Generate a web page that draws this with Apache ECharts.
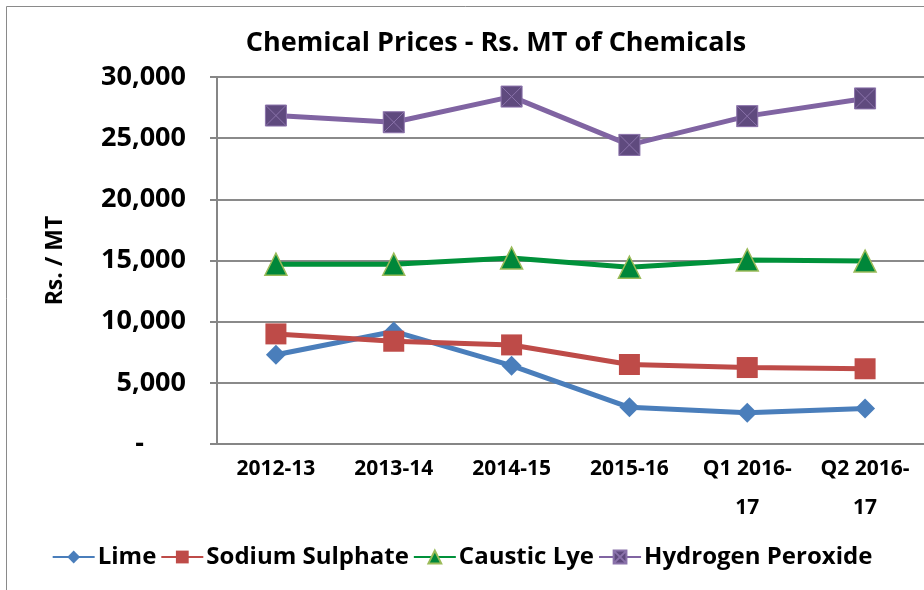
<!DOCTYPE html>
<html>
<head>
<meta charset="utf-8">
<script src="https://cdn.jsdelivr.net/npm/echarts@6/dist/echarts.min.js"></script>
<style>
  html, body { margin: 0; padding: 0; background: #fff; }
  #chart { width: 924px; height: 590px; }
</style>
</head>
<body>
<div id="chart"></div>
<script>
const categories = ['2012-13', '2013-14', '2014-15', '2015-16', 'Q1 2016-17', 'Q2 2016-17'];
const lime = [7300, 9200, 6400, 3000, 2550, 2900];
const sodiumSulphate = [9000, 8400, 8100, 6500, 6250, 6150];
const causticLye = [14700, 14700, 15200, 14450, 15050, 14950];
const hydrogenPeroxide = [26850, 26300, 28400, 24450, 26800, 28250];
const yTicks = [0, 5000, 10000, 15000, 20000, 25000, 30000];

const font = '"Open Sans", sans-serif';
const boxX = 'path://M0,0 L10,0 L10,10 L0,10 Z M0,0 L10,10 M10,0 L0,10';

const chart = echarts.init(document.getElementById('chart'));

function lineSeries(name, data, color, symbol, size, itemStyle) {
  return {
    name: name,
    type: 'line',
    data: data,
    symbol: symbol,
    symbolSize: size,
    lineStyle: { color: color, width: 5 },
    itemStyle: itemStyle,
    emphasis: { disabled: true }
  };
}

chart.setOption({
  animation: false,
  title: {
    text: 'Chemical Prices - Rs. MT of Chemicals',
    left: 491,
    textAlign: 'center',
    top: 25,
    textStyle: { fontFamily: font, fontSize: 27, fontWeight: 'bold', color: '#000' }
  },
  graphic: [{
    type: 'rect',
    shape: { x: 6.5, y: 6.5, width: 1000, height: 1000 },
    style: { fill: 'none', stroke: '#8a8a8a', lineWidth: 1 }
  }],
  legend: {
    bottom: 16,
    left: 'center',
    itemWidth: 42,
    itemHeight: 16,
    itemGap: 4,
    textStyle: { fontFamily: font, fontSize: 24, fontWeight: 'bold', color: '#000', padding: [0, 0, 0, -2] }
  },
  grid: { left: 217, right: -1, top: 77, bottom: 146 },
  xAxis: {
    type: 'category',
    data: categories,
    axisLine: { lineStyle: { color: '#868686', width: 2 } },
    axisTick: { length: 7, lineStyle: { color: '#868686', width: 2 } },
    axisLabel: {
      interval: 0,
      hideOverlap: false,
      margin: 6,
      fontFamily: font, fontSize: 21, fontWeight: 'bold', color: '#000',
      lineHeight: 39,
      formatter: function (v) { return v.replace(/^(Q\d 2016-)(\d+)$/, '$1\n$2'); }
    }
  },
  yAxis: {
    type: 'value',
    min: yTicks[0],
    max: yTicks[yTicks.length - 1],
    interval: yTicks[1] - yTicks[0],
    name: 'Rs. / MT',
    nameLocation: 'middle',
    nameGap: 150,
    nameRotate: 90,
    nameTextStyle: { fontFamily: font, fontSize: 23, fontWeight: 'bold', color: '#000' },
    axisLine: { show: true, lineStyle: { color: '#868686', width: 2 } },
    axisTick: { show: true, length: 7, lineStyle: { color: '#868686', width: 2 } },
    splitLine: { lineStyle: { color: '#8a8a8a', width: 2 } },
    axisLabel: {
      margin: 31,
      fontFamily: font, fontSize: 27, fontWeight: 'bold', color: '#000',
      formatter: function (v) { return v === 0 ? '-      ' : v.toLocaleString('en-US'); }
    }
  },
  series: [
    lineSeries('Lime', lime, '#4a7ebb', 'diamond', 20, { color: '#4a7ebb' }),
    lineSeries('Sodium Sulphate', sodiumSulphate, '#be4b48', 'rect', 21, { color: '#be4b48' }),
    lineSeries('Caustic Lye', causticLye, '#00913a', 'triangle', 22, { color: '#00873a', borderColor: '#9bbb59', borderWidth: 1.5 }),
    lineSeries('Hydrogen Peroxide', hydrogenPeroxide, '#8064a2', boxX, 21, { color: '#5f4a7e', borderColor: '#8a72aa', borderWidth: 1 })
  ]
});
</script>
</body>
</html>
